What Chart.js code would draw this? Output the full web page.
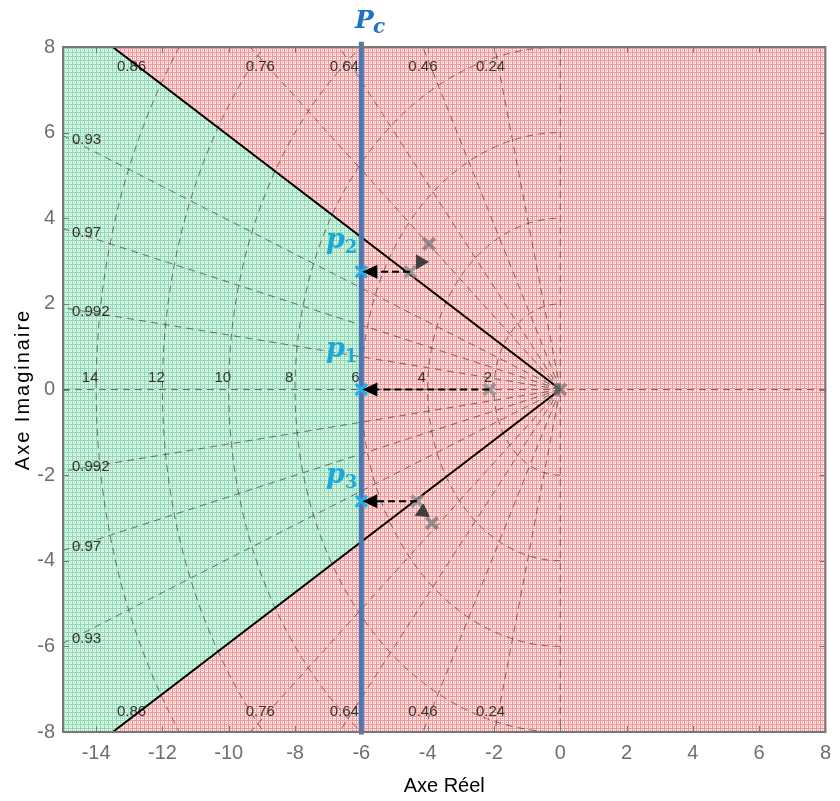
<!DOCTYPE html>
<html><head><meta charset="utf-8">
<script src="https://cdn.jsdelivr.net/npm/chart.js@4.4.1/dist/chart.umd.min.js"></script>
<style>html,body{margin:0;padding:0;background:#fff}#wrap{width:840px;height:801px}</style>
</head><body><div id="wrap"><canvas id="c" width="840" height="801"></canvas></div>
<script>
// ---- data ----
const xTicks = [-14,-12,-10,-8,-6,-4,-2,0,2,4,6,8];
const yTicks = [-8,-6,-4,-2,0,2,4,6,8];
const zetaLines = [0.24,0.46,0.64,0.76,0.86,0.93,0.97,0.992];
const wnCircles = [2,4,6,8,10,12,14];
const boundary = [{x:-13.5,y:8},{x:0,y:0},{x:-13.5,y:-8}];
const pcX = -6;
const pcLine = [{x:-6,y:-8.06},{x:-6,y:8.12}];
const desiredPoles = [{x:-6,y:2.75},{x:-6,y:0},{x:-6,y:-2.61}];
const poleNames = ['2','1','3'];
const shiftedPoles = [{x:-4.53,y:2.75},{x:-2.14,y:0},{x:-4.32,y:-2.61}];
const openPoles = [{x:-3.96,y:3.40},{x:-3.87,y:-3.12},{x:0,y:0}];
const turnMarks = [{x:-4.22,y:2.98},{x:-4.15,y:-2.86}];
const turnAngles = [90,125];

// ---- styling helpers ----
function makePattern(bg, fg){
  const c = document.createElement('canvas'); c.width = 4; c.height = 4;
  const g = c.getContext('2d');
  g.fillStyle = bg; g.fillRect(0,0,4,4);
  g.fillStyle = fg; g.fillRect(0,0,4,1); g.fillRect(0,0,1,4); g.fillRect(2,2,1,1);
  return document.getElementById('c').getContext('2d').createPattern(c,'repeat');
}
const redPat = makePattern('#fee6e6','#f49494');
const greenPat = makePattern('#e2f7eb','#8dd9b0');

const bgPlugin = {
  id:'bg',
  beforeDatasetsDraw(chart){
    const {ctx, chartArea:a, scales:{x,y}} = chart;
    ctx.save();
    ctx.beginPath(); ctx.rect(a.left,a.top,a.width,a.height); ctx.clip();
    ctx.fillStyle = redPat; ctx.fillRect(a.left,a.top,a.width,a.height);
    const slope = boundary[0].y/boundary[0].x;
    const yb = slope*pcX;
    ctx.fillStyle = greenPat;
    ctx.beginPath();
    ctx.moveTo(x.getPixelForValue(pcX), y.getPixelForValue(yb));
    ctx.lineTo(x.getPixelForValue(boundary[0].x), y.getPixelForValue(boundary[0].y));
    ctx.lineTo(x.getPixelForValue(x.min), y.getPixelForValue(y.max));
    ctx.lineTo(x.getPixelForValue(x.min), y.getPixelForValue(y.min));
    ctx.lineTo(x.getPixelForValue(boundary[2].x), y.getPixelForValue(boundary[2].y));
    ctx.lineTo(x.getPixelForValue(pcX), y.getPixelForValue(-yb));
    ctx.closePath(); ctx.fill();

    // s-grid
    ctx.strokeStyle = 'rgba(70,70,70,0.75)';
    ctx.lineWidth = 1;
    ctx.setLineDash([7,5]);
    const ox = x.getPixelForValue(0), oy = y.getPixelForValue(0);
    zetaLines.forEach(z=>{
      const s = Math.sqrt(1-z*z);
      [1,-1].forEach(sg=>{
        ctx.beginPath(); ctx.moveTo(ox,oy);
        ctx.lineTo(x.getPixelForValue(-40*z), y.getPixelForValue(sg*40*s)); ctx.stroke();
      });
    });
    const sx = x.getPixelForValue(1)-x.getPixelForValue(0);
    const sy = y.getPixelForValue(0)-y.getPixelForValue(1);
    wnCircles.forEach(r=>{
      ctx.beginPath(); ctx.ellipse(ox,oy,r*sx,r*sy,0,Math.PI/2,3*Math.PI/2); ctx.stroke();
    });
    ctx.beginPath(); ctx.moveTo(a.left,oy); ctx.lineTo(a.right,oy); ctx.stroke();
    ctx.beginPath(); ctx.moveTo(ox,a.top); ctx.lineTo(ox,a.bottom); ctx.stroke();
    ctx.setLineDash([]);

    // grid labels
    ctx.fillStyle = '#333';
    ctx.font = '15px "Liberation Sans", Arial, sans-serif';
    ctx.textBaseline = 'middle';
    zetaLines.forEach(z=>{
      const s = Math.sqrt(1-z*z);
      const xTop = -(y.max)*z/s;
      if (xTop >= x.min){
        const yv = y.max - 0.47;
        const px = x.getPixelForValue(-yv*z/s) - 8;
        ctx.textAlign = 'center';
        ctx.fillText(String(z), px, a.top+20);
        ctx.fillText(String(z), px, a.bottom-20);
      } else {
        const yl = -x.min*s/z;
        ctx.textAlign = 'left';
        ctx.fillText(String(z), a.left+9, y.getPixelForValue(yl)+4);
        ctx.fillText(String(z), a.left+9, y.getPixelForValue(-yl)-4);
      }
    });
    ctx.textAlign = 'center';
    wnCircles.forEach(r=>{
      ctx.fillText(String(r), x.getPixelForValue(-r)-6, oy-12);
    });
    ctx.restore();
  },
  afterDatasetsDraw(chart){
    const {ctx, chartArea:a, scales:{x,y}} = chart;
    ctx.save();
    // arrowheads
    ctx.fillStyle = '#000';
    desiredPoles.forEach(p=>{
      const px = x.getPixelForValue(p.x)+1, py = y.getPixelForValue(p.y);
      ctx.beginPath(); ctx.moveTo(px,py); ctx.lineTo(px+15,py-7); ctx.lineTo(px+15,py+7); ctx.closePath(); ctx.fill();
    });
    // frame + inner ticks
    ctx.strokeStyle = '#777'; ctx.lineWidth = 2;
    ctx.strokeRect(a.left, a.top, a.width, a.height);
    ctx.lineWidth = 1;
    ctx.beginPath();
    xTicks.forEach(v=>{
      const px = Math.round(x.getPixelForValue(v))+0.5;
      ctx.moveTo(px,a.top); ctx.lineTo(px,a.top+6);
      ctx.moveTo(px,a.bottom); ctx.lineTo(px,a.bottom-6);
    });
    yTicks.forEach(v=>{
      const py = Math.round(y.getPixelForValue(v))+0.5;
      ctx.moveTo(a.left,py); ctx.lineTo(a.left+6,py);
      ctx.moveTo(a.right,py); ctx.lineTo(a.right-6,py);
    });
    ctx.stroke();

    // pole labels
    const pcPx = x.getPixelForValue(pcX);
    const offs = [24,33,18];
    desiredPoles.forEach((p,i)=>{
      const py = y.getPixelForValue(p.y) - offs[i];
      ctx.fillStyle = '#1ba9d9';
      ctx.textBaseline = 'alphabetic';
      ctx.font = 'bold 18px "DejaVu Serif", serif';
      const sw = ctx.measureText(poleNames[i]).width;
      ctx.textAlign = 'right';
      ctx.fillText(poleNames[i], pcPx-4, py+5);
      ctx.font = 'italic bold 27px "DejaVu Serif", serif';
      ctx.fillText('p', pcPx-4-sw, py);
    });
    // Pc label
    ctx.fillStyle = '#1e72c0';
    ctx.textAlign = 'left';
    ctx.font = 'italic bold 25px "DejaVu Serif", serif';
    ctx.fillText('P', 355, 28);
    ctx.font = 'italic bold 20px "DejaVu Serif", serif';
    ctx.fillText('c', 373, 33);

    // y title
    ctx.fillStyle = '#000';
    ctx.font = '20px "Liberation Sans", Arial, sans-serif';
    ctx.letterSpacing = '2px';
    ctx.translate(23, (a.top+a.bottom)/2);
    ctx.rotate(-Math.PI/2);
    ctx.textAlign = 'center'; ctx.textBaseline = 'middle';
    ctx.fillText('Axe Imaginaire', 0, 0);
    ctx.restore();
  }
};

const tickFont = {family:'"Liberation Sans", Arial, sans-serif', size:20};
new Chart(document.getElementById('c'), {
  type:'scatter',
  data:{datasets:[
    {data:desiredPoles, pointStyle:'crossRot', radius:8, borderColor:'#22aee6', borderWidth:3, showLine:false, order:0},
    ...shiftedPoles.map((s,i)=>({data:[s,desiredPoles[i]], showLine:true, borderColor:'#000', borderWidth:2, borderDash:[7,4], pointRadius:0, order:1})),
    {data:turnMarks, pointStyle:'triangle', radius:8, rotation:turnAngles, backgroundColor:'#3f3f3f', borderColor:'#3f3f3f', borderWidth:1, showLine:false, order:2},
    {data:shiftedPoles, pointStyle:'crossRot', radius:8, borderColor:'rgba(140,140,140,0.8)', borderWidth:4, showLine:false, order:2},
    {data:openPoles, pointStyle:'crossRot', radius:8, borderColor:'rgba(120,120,120,0.75)', borderWidth:4, showLine:false, order:2},
    {data:pcLine, showLine:true, borderColor:'#4a78b4', borderWidth:5, pointRadius:0, clip:false, order:3},
    {data:boundary, showLine:true, borderColor:'#000', borderWidth:2, pointRadius:0, order:4}
  ]},
  options:{
    responsive:false, animation:false,
    layout:{padding:{left:0,top:47,right:8,bottom:0}},
    plugins:{legend:{display:false}, tooltip:{enabled:false}},
    scales:{
      x:{type:'linear', min:-15, max:8,
        afterBuildTicks(s){ s.ticks = xTicks.map(v=>({value:v})); },
        afterFit(s){ s.height = 69; },
        grid:{display:false, drawTicks:false}, border:{display:false},
        ticks:{font:tickFont, color:'#6e6e6e', padding:9, maxRotation:0, autoSkip:false},
        title:{display:true, text:'Axe Réel', color:'#000', font:{family:'"Liberation Sans", Arial, sans-serif', size:20}, padding:{top:0,bottom:3}}
      },
      y:{type:'linear', min:-8, max:8,
        afterBuildTicks(s){ s.ticks = yTicks.map(v=>({value:v})); },
        afterFit(s){ s.width = 63; },
        grid:{display:false, drawTicks:false}, border:{display:false},
        ticks:{font:tickFont, color:'#6e6e6e', padding:8, autoSkip:false}
      }
    }
  },
  plugins:[bgPlugin]
});
</script>
</body></html>
